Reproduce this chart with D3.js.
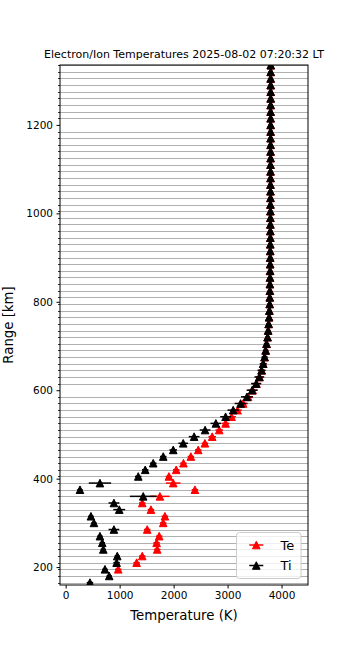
<!DOCTYPE html>
<html>
<head>
<meta charset="utf-8">
<script src="https://cdn.jsdelivr.net/npm/d3@7"></script>
<style>
  html, body { margin: 0; padding: 0; background: #fff; }
  svg text { font-family: "DejaVu Sans", sans-serif; }
</style>
</head>
<body>
<svg id="chart" width="350" height="650"></svg>
<script>
// ---- data ----
const rangesKm = [165,180,195,210,225,240,255,270,285,300,315,330,345,360,375,390,405,420,435,450,
  465,480,495,510,525,540,555,570,585,600,615,630,645,660,675,690,705,720,735,750,
  765,780,795,810,825,840,855,870,885,900,915,930,945,960,975,990,1005,1020,1035,1050,
  1065,1080,1095,1110,1125,1140,1155,1170,1185,1200,1215,1230,1245,1260,1275,1290,1305,1320,1335];
const tiValues = [450,807,728,944,956,697,678,635,894,524,468,993,894,1437,265,635,1345,1474,1622,1808,
  1993,2178,2380,2583,2783,2963,3104,3241,3358,3454,3530,3589,3630,3660,3685,3706,3722,3741,3752,3761,
  3769,3774,3780,3782,3784,3785,3786,3788,3789,3790,3790,3791,3792,3792,3793,3793,3794,3794,3795,3795,
  3795,3796,3796,3796,3797,3797,3797,3797,3798,3798,3798,3798,3798,3799,3799,3799,3799,3799,3800];
const tiErrors = [60,50,50,60,50,50,50,50,100,50,50,110,100,247,50,207,60,60,60,60,
  70,90,100,100,100,100,105,110,110,100,95,90,75,65,55,50,50,40,40,40,
  40,40,40,40,40,40,40,40,40,40,40,40,40,40,40,40,40,40,40,40,
  40,40,40,40,40,40,40,40,40,40,40,40,40,40,40,40,40,40,40];
const teValues = [null,null,974,1315,1419,1696,1685,1733,1511,1807,1839,1580,1419,1746,2395,1993,1913,2048,2182,2320,
  2456,2580,2715,2845,2963,3074,3185,3289,3380,3466,3536,3592,3632,3661,3686,3706,3722,3741,3752,3761,
  3769,3774,3780,3782,3784,3785,3786,3788,3789,3790,3790,3791,3792,3792,3793,3793,3794,3794,3795,3795,
  3795,3796,3796,3796,3797,3797,3797,3797,3798,3798,3798,3798,3798,3799,3799,3799,3799,3799,3800];
const teErrors = [null,null,60,60,60,60,60,60,60,60,60,60,60,180,60,135,60,60,60,60,
  60,60,70,70,70,80,80,90,90,90,80,70,60,60,50,50,40,40,40,40,
  30,30,30,30,30,30,30,30,30,30,30,30,30,30,30,30,30,30,30,30,
  30,30,30,30,30,30,30,30,30,30,30,30,30,30,30,30,30,30,30];
const xTickValues = [0,1000,2000,3000,4000];
const yTickValues = [200,400,600,800,1000,1200];
const titleText = "Electron/Ion Temperatures 2025-08-02 07:20:32 LT";
const seriesNames = ["Te","Ti"];
const seriesColors = ["#ff0000","#000000"];

// ---- layout ----
const svg = d3.select("#chart");
const L = 60, R = 308, T = 65, B = 585;
const x = d3.scaleLinear().domain([-105, 4490]).range([L, R]);
const y = d3.scaleLinear().domain([159.5, 1335.5]).range([B, T]);

svg.append("rect").attr("width",350).attr("height",650).attr("fill","#fff");

svg.append("defs").append("clipPath").attr("id","plotclip")
  .append("rect").attr("x",L).attr("y",T).attr("width",R-L).attr("height",B-T);

// gridlines at range gates (minor ticks), none where a major tick coincides
const minorGates = rangesKm.filter(r => !yTickValues.includes(r));
const plot = svg.append("g").attr("clip-path","url(#plotclip)");
plot.append("g").selectAll("line").data(minorGates).join("line")
  .attr("x1",L).attr("x2",R)
  .attr("y1",d=>Math.round(y(d))+0.5).attr("y2",d=>Math.round(y(d))+0.5)
  .attr("stroke","#b0b0b0").attr("stroke-width",1);

const tri = s => `M0,${-s}L${s},${s}L${-s},${s}Z`;
function drawSeries(vals, errs, color) {
  const pts = rangesKm.map((r,i)=>({r, v: vals[i], e: errs[i]})).filter(d=>d.v!=null);
  const g = plot.append("g");
  g.selectAll("line.err").data(pts).join("line").attr("class","err")
    .attr("x1",d=>x(d.v-d.e)).attr("x2",d=>x(d.v+d.e))
    .attr("y1",d=>y(d.r)).attr("y2",d=>y(d.r))
    .attr("stroke",color).attr("stroke-width",1.5);
  g.selectAll("path").data(pts).join("path")
    .attr("transform",d=>`translate(${x(d.v)},${y(d.r)})`)
    .attr("d",tri(3.8)).attr("fill",color).attr("stroke",color).attr("stroke-width",1)
    .attr("stroke-linejoin","miter");
}
drawSeries(teValues, teErrors, seriesColors[0]);
drawSeries(tiValues, tiErrors, seriesColors[1]);

// axes
const xAxis = d3.axisBottom(x).tickValues(xTickValues).tickFormat(d3.format("d")).tickSize(3.5).tickPadding(3.5);
const gx = svg.append("g").attr("transform",`translate(0,${B})`).call(xAxis);
gx.select(".domain").remove();
gx.selectAll("text").attr("font-size","10.5px").attr("fill","#000");
gx.selectAll("line").attr("stroke","#000");

const yAxis = d3.axisLeft(y).tickValues(yTickValues).tickFormat(d3.format("d")).tickSize(3.5).tickPadding(3.5);
const gy = svg.append("g").attr("transform",`translate(${L},0)`).call(yAxis);
gy.select(".domain").remove();
gy.selectAll("text").attr("font-size","10.5px").attr("fill","#000");
gy.selectAll("line").attr("stroke","#000");

// minor ticks
svg.append("g").selectAll("line").data(minorGates).join("line")
  .attr("x1",L-2).attr("x2",L)
  .attr("y1",d=>Math.round(y(d))+0.5).attr("y2",d=>Math.round(y(d))+0.5)
  .attr("stroke","#000").attr("stroke-width",0.8);

// frame
svg.append("rect").attr("x",L).attr("y",T).attr("width",R-L).attr("height",B-T)
  .attr("fill","none").attr("stroke","#000").attr("stroke-width",1);

// title & labels
svg.append("text").attr("x",(L+R)/2).attr("y",57.5).attr("text-anchor","middle")
  .attr("font-size","11px").attr("fill","#000").text(titleText);
svg.append("text").attr("x",(L+R)/2).attr("y",620).attr("text-anchor","middle")
  .attr("font-size","13.3px").attr("fill","#000").text("Temperature (K)");
svg.append("text").attr("transform",`translate(12.5,${(T+B)/2}) rotate(-90)`).attr("text-anchor","middle")
  .attr("font-size","13.3px").attr("fill","#000").text("Range [km]");

// legend
const lg = svg.append("g");
lg.append("rect").attr("x",236.5).attr("y",532.5).attr("width",64.5).attr("height",46)
  .attr("rx",3).attr("fill","#fff").attr("fill-opacity",0.8).attr("stroke","#cccccc").attr("stroke-width",1);
seriesNames.forEach((name,i)=>{
  const cy = 545 + i*20.5;
  lg.append("line").attr("x1",249.3).attr("x2",263.3).attr("y1",cy).attr("y2",cy)
    .attr("stroke",seriesColors[i]).attr("stroke-width",1.5);
  lg.append("path").attr("transform",`translate(256.3,${cy})`).attr("d",tri(3.8))
    .attr("fill",seriesColors[i]).attr("stroke",seriesColors[i]).attr("stroke-width",1);
  lg.append("text").attr("x",280.5).attr("y",cy+4.6).attr("font-size","13px").attr("fill","#000").text(name);
});
</script>
</body>
</html>
